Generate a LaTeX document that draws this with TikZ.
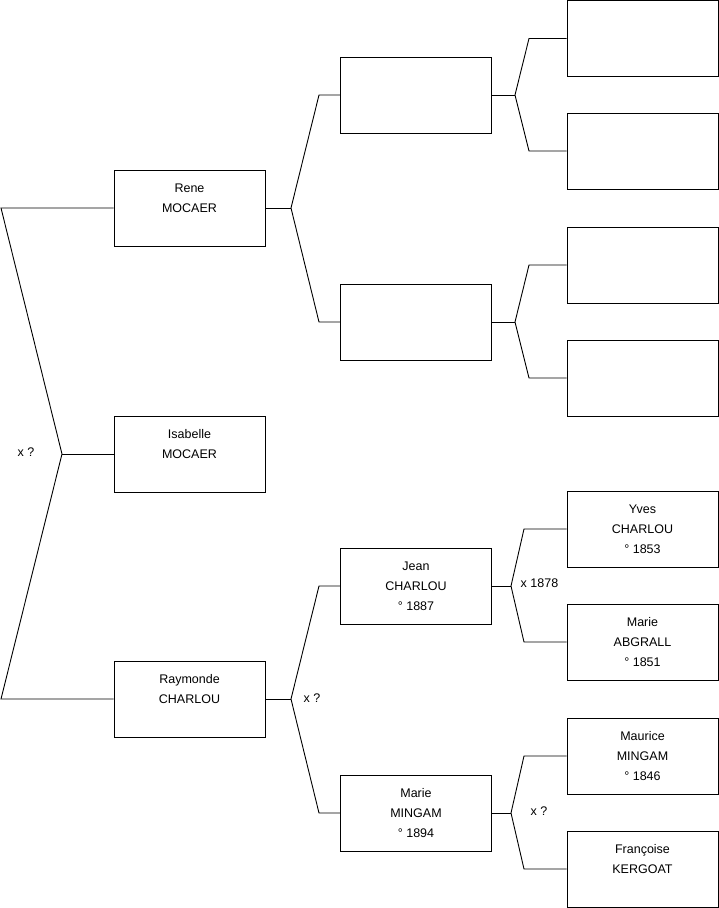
\documentclass[tikz,border=0pt]{standalone}
\usepackage{fontspec}
\setmainfont{Liberation Sans}
\usetikzlibrary{positioning}

\begin{document}
\begin{tikzpicture}[x=1pt,y=-1pt,font=\fontsize{12.5}{20}\selectfont,line width=0.9pt]
\tikzset{p/.style={draw,minimum width=151pt,minimum height=76pt,inner sep=0pt,align=center},
  lnk/.style={draw,line join=miter}}
\useasboundingbox (0,0) rectangle (719,908);
% generation 1
\node[p] (rene) at (189.5,208) {Rene\\MOCAER\\\phantom{0}};
\node[p] (isabelle) at (189.5,454) {Isabelle\\MOCAER\\\phantom{0}};
\node[p] (raymonde) at (189.5,699) {Raymonde\\CHARLOU\\\phantom{0}};
% generation 2
\node[p] (g2a) at (416,95) {};
\node[p] (g2b) at (416,322) {};
\node[p] (jean) at (416,586) {Jean\\CHARLOU\\° 1887};
\node[p] (marie) at (416,813) {Marie\\MINGAM\\° 1894};
% generation 3
\node[p] (g3a) at (642.5,38.5) {};
\node[p] (g3b) at (642.5,151) {};
\node[p] (g3c) at (642.5,265) {};
\node[p] (g3d) at (642.5,378) {};
\node[p] (yves) at (642.5,529) {Yves\\CHARLOU\\° 1853};
\node[p] (abgrall) at (642.5,642) {Marie\\ABGRALL\\° 1851};
\node[p] (maurice) at (642.5,756) {Maurice\\MINGAM\\° 1846};
\node[p] (francoise) at (642.5,869) {Françoise\\KERGOAT\\\phantom{0}};
% forks
\coordinate (l1) at (1,208); \coordinate (m0) at (62,454); \coordinate (l2) at (1,699);
\coordinate (f1) at (291,208); \coordinate (k1) at (319,95); \coordinate (k2) at (319,322);
\coordinate (f2) at (515,95); \coordinate (k3) at (529,38.5); \coordinate (k4) at (529,151);
\coordinate (f3) at (515,322); \coordinate (k5) at (529,265); \coordinate (k6) at (529,378);
\coordinate (f4) at (291,699); \coordinate (k7) at (319,586); \coordinate (k8) at (319,813);
\coordinate (f5) at (511,586); \coordinate (k9) at (524,529); \coordinate (k10) at (524,642);
\coordinate (f6) at (511,813); \coordinate (k11) at (524,756); \coordinate (k12) at (524,869);
\draw[lnk] (rene.west) -- (l1) -- (m0) -- (l2) -- (raymonde.west); \draw[lnk] (m0) -- (isabelle.west);
\draw[lnk] (g2a.west) -- (k1) -- (f1) -- (k2) -- (g2b.west); \draw[lnk] (rene.east) -- (f1);
\draw[lnk] (g3a.west) -- (k3) -- (f2) -- (k4) -- (g3b.west); \draw[lnk] (g2a.east) -- (f2);
\draw[lnk] (g3c.west) -- (k5) -- (f3) -- (k6) -- (g3d.west); \draw[lnk] (g2b.east) -- (f3);
\draw[lnk] (jean.west) -- (k7) -- (f4) -- (k8) -- (marie.west); \draw[lnk] (raymonde.east) -- (f4);
\draw[lnk] (yves.west) -- (k9) -- (f5) -- (k10) -- (abgrall.west); \draw[lnk] (jean.east) -- (f5);
\draw[lnk] (maurice.west) -- (k11) -- (f6) -- (k12) -- (francoise.west); \draw[lnk] (marie.east) -- (f6);
% marriages
\node (x0) at (26,452) {x ?};
\node (x1) at (312,698) {x ?};
\node (x2) at (539.5,583) {x 1878};
\node (x3) at (539,811) {x ?};
\end{tikzpicture}
\end{document}
